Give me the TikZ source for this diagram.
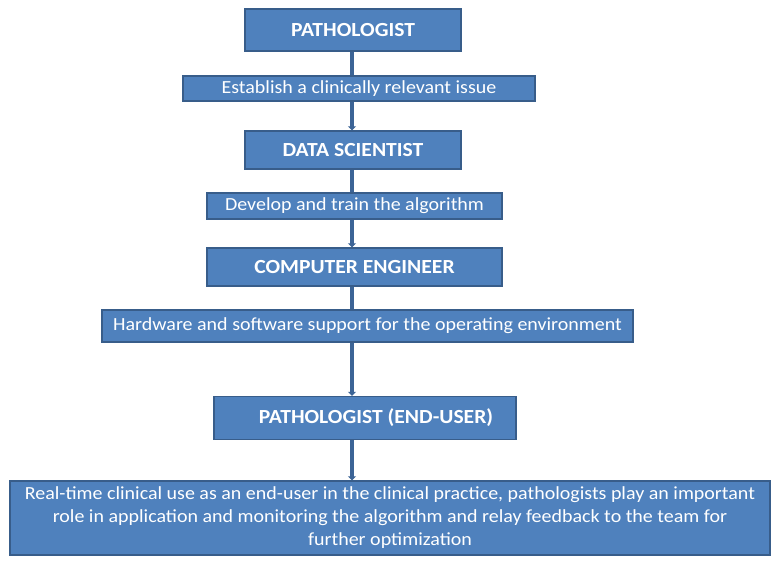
\documentclass[tikz,border=0pt]{standalone}
\usepackage{fontspec}
\setmainfont{Carlito}[FakeStretch=1.08]
\usetikzlibrary{arrows.meta}
\definecolor{boxfill}{HTML}{4F81BD}
\definecolor{boxline}{HTML}{385D8A}
\definecolor{arrowcol}{HTML}{3C6496}
\tikzset{
  boxstyle/.style={draw=boxline, line width=1.4pt, fill=boxfill, text=white, inner sep=0pt, anchor=center, align=center},
  titlebox/.style={boxstyle, font=\bfseries\fontsize{20}{23}\selectfont},
  descbox/.style={boxstyle, font=\fontsize{18.5}{22}\selectfont},
  flow/.style={draw=arrowcol, line width=4pt, -{Triangle[width=8pt,length=4pt]}}
}
\begin{document}
\begin{tikzpicture}[x=1pt,y=-1pt]
\useasboundingbox (0,0) rectangle (776,566);
\fill[white] (0,0) rectangle (776,566);
% title boxes
\node[titlebox, minimum width=216pt, minimum height=42pt] (p1) at (353,30) {PATHOLOGIST};
\node[titlebox, minimum width=216pt, minimum height=38pt] (d1) at (353,150) {DATA SCIENTIST};
\node[titlebox, minimum width=295pt, minimum height=38pt] (c1) at (354.5,267) {COMPUTER ENGINEER};
\node[titlebox, minimum width=302pt, minimum height=43pt] (u1) at (365,418) {\hspace*{22pt}PATHOLOGIST (END-USER)};
\node[descbox, minimum width=760pt, minimum height=74pt, font=\fontsize{18.5}{23}\selectfont] (r1) at (390,518)
  {Real-time clinical use as an end-user in the clinical practice, pathologists play an important\\
   role in application and monitoring the algorithm and relay feedback to the team for\\
   further optimization};
% connectors (drawn before the description boxes so these cover them)
\coordinate (a1) at (352,51);
\coordinate (a2) at (352,169);
\coordinate (a3) at (352,286);
\coordinate (a4) at (352,440);
\draw[flow] (p1.south -| a1) -- (d1.north -| a1);
\draw[flow] (d1.south -| a2) -- (c1.north -| a2);
\draw[flow] (c1.south -| a3) -- (u1.north -| a3);
\draw[flow] (u1.south -| a4) -- (r1.north -| a4);
% description boxes
\node[descbox, minimum width=352pt, minimum height=25pt] (e1) at (359,88.5) {Establish a clinically relevant issue};
\node[descbox, minimum width=295pt, minimum height=26pt] (v1) at (354.5,206) {Develop and train the algorithm};
\node[descbox, minimum width=531pt, minimum height=32pt] (h1) at (367.5,326) {Hardware and software support for the operating environment};
\end{tikzpicture}
\end{document}
